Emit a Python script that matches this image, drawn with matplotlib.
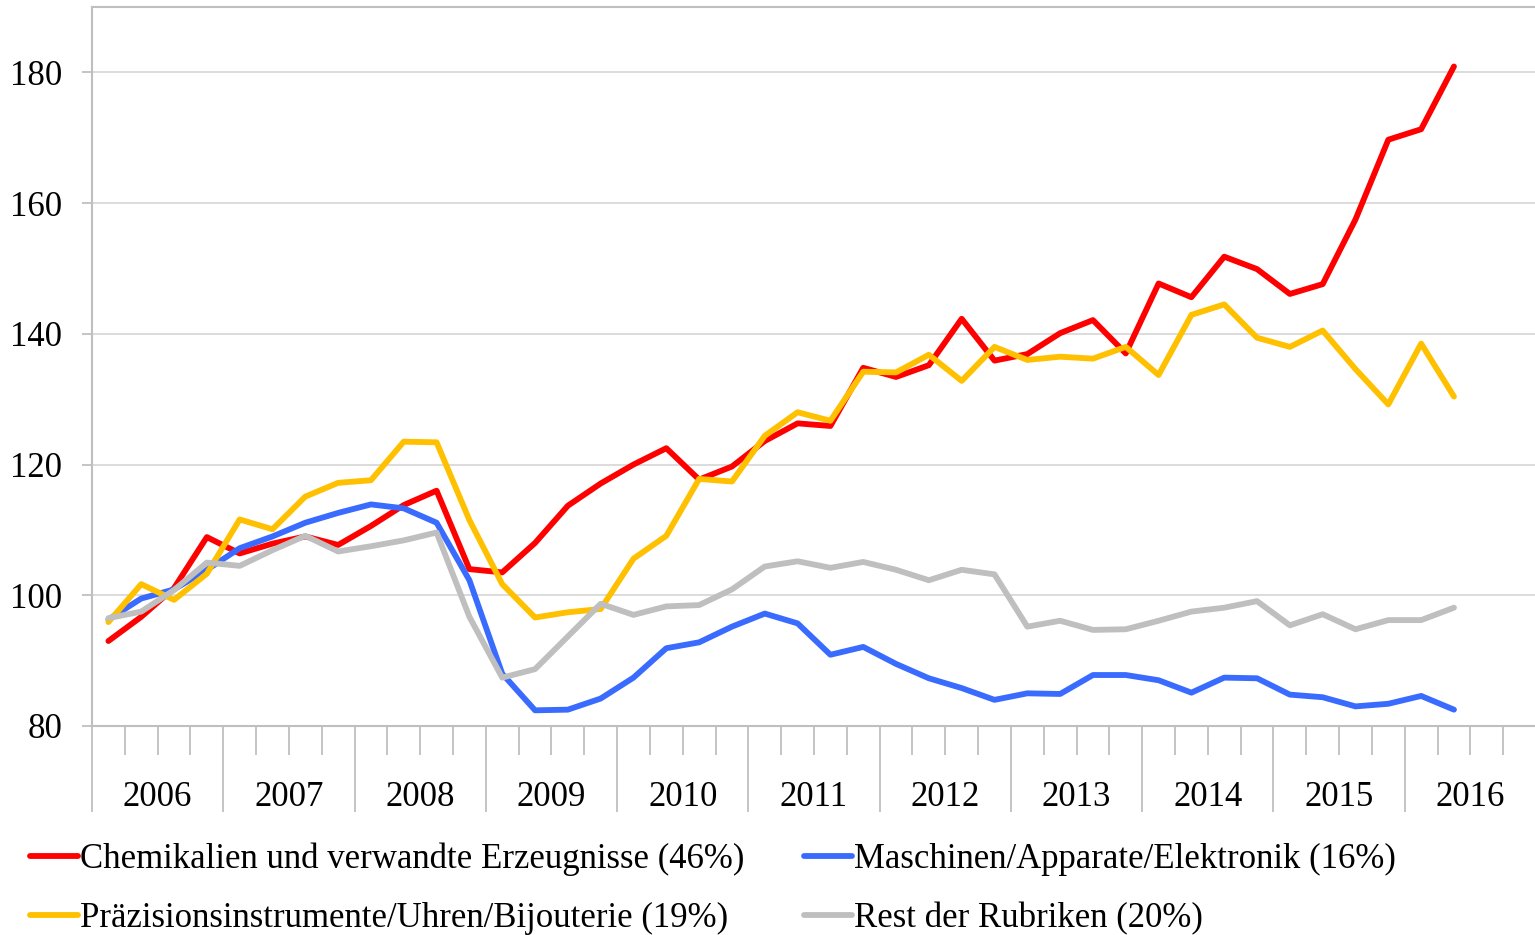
import matplotlib
matplotlib.use("Agg")
import matplotlib.pyplot as plt
from matplotlib.ticker import FixedLocator, NullFormatter
import matplotlib.transforms as mtransforms

plt.rcParams['font.family'] = ['Liberation Serif', 'DejaVu Serif']

years = ["2006", "2007", "2008", "2009", "2010", "2011", "2012", "2013", "2014", "2015", "2016"]
quarters_per_year = 4
n_slots = len(years) * quarters_per_year  # 2016 Q3/Q4 empty

chem = [93.0, 96.7, 101.1, 108.9, 106.4, 107.9, 109.0, 107.7, 110.6, 113.8, 116.0, 104.0,
        103.5, 108.0, 113.7, 117.1, 120.0, 122.5, 117.7, 119.7, 123.6, 126.3, 125.9, 134.8,
        133.4, 135.2, 142.3, 135.9, 136.9, 140.1, 142.1, 137.0, 147.7, 145.6, 151.8, 149.9,
        146.1, 147.6, 157.5, 169.7, 171.3, 180.9]
masch = [96.3, 99.5, 100.9, 103.9, 107.2, 109.0, 111.1, 112.6, 113.9, 113.3, 111.1, 102.3,
         88.0, 82.4, 82.5, 84.2, 87.4, 91.9, 92.8, 95.2, 97.2, 95.7, 90.9, 92.1,
         89.5, 87.3, 85.8, 84.0, 85.0, 84.9, 87.8, 87.8, 87.0, 85.1, 87.4, 87.3,
         84.8, 84.4, 83.0, 83.4, 84.6, 82.5]
praez = [95.9, 101.7, 99.3, 103.3, 111.6, 110.1, 115.1, 117.2, 117.6, 123.5, 123.4, 111.5,
         101.7, 96.6, 97.4, 97.9, 105.6, 109.1, 117.8, 117.4, 124.4, 128.0, 126.7, 134.2,
         134.1, 136.8, 132.8, 138.0, 136.0, 136.5, 136.2, 138.0, 133.7, 142.9, 144.5, 139.4,
         138.0, 140.5, 134.6, 129.2, 138.5, 130.4]
rest = [96.5, 97.5, 100.8, 105.0, 104.5, 106.9, 109.1, 106.7, 107.5, 108.4, 109.6, 96.7,
        87.4, 88.7, 93.7, 98.7, 97.0, 98.3, 98.5, 100.9, 104.4, 105.2, 104.2, 105.1,
        103.9, 102.3, 103.9, 103.2, 95.2, 96.1, 94.7, 94.8, 96.1, 97.5, 98.1, 99.1,
        95.4, 97.1, 94.8, 96.2, 96.2, 98.1]

labels = ["Chemikalien und verwandte Erzeugnisse (46%)",
          "Maschinen/Apparate/Elektronik (16%)",
          "Präzisionsinstrumente/Uhren/Bijouterie (19%)",
          "Rest der Rubriken (20%)"]
colors = ["#FF0000", "#3A6BFF", "#FFC000", "#BFBFBF"]
series = [chem, masch, praez, rest]

yticks = [80, 100, 120, 140, 160, 180]

W, H = 1535, 935
fig = plt.figure(figsize=(W / 100, H / 100), dpi=100)
ax = fig.add_axes([92 / W, 1 - 726 / H, 1444 / W, 719 / H])

FS = 25
grid_c = "#D9D9D9"
axis_c = "#BFBFBF"

handles = []
for vals, col in zip(series, colors):
    x = [i + 0.5 for i in range(len(vals))]
    ln, = ax.plot(x, vals, color=col, lw=4.2, solid_capstyle='round',
                  solid_joinstyle='round', zorder=3)
    handles.append(ln)

ax.set_xlim(0, n_slots)
ax.set_ylim(80, 190)
ax.set_yticks(yticks)
ax.set_yticklabels([str(v) for v in yticks], fontsize=FS)
ax.yaxis.grid(True, color=grid_c, lw=1.3, zorder=0)
ax.tick_params(axis='y', length=7, width=1.3, color=axis_c, pad=14.5)

# x axis: long ticks at year boundaries, short at quarter boundaries
ax.xaxis.set_major_locator(FixedLocator(list(range(0, n_slots + 1, quarters_per_year))))
ax.xaxis.set_minor_locator(FixedLocator([q for q in range(n_slots + 1) if q % quarters_per_year]))
ax.xaxis.set_major_formatter(NullFormatter())
ax.tick_params(axis='x', which='major', length=62, width=1.3, color=axis_c)
ax.tick_params(axis='x', which='minor', length=21, width=1.3, color=axis_c)

trans = mtransforms.blended_transform_factory(ax.transData, ax.transAxes)
for k, yr in enumerate(years):
    ax.text(k * quarters_per_year + quarters_per_year / 2, -71 / 719, yr, transform=trans,
            ha='center', va='center', fontsize=FS)

for s in ['left', 'top', 'bottom']:
    ax.spines[s].set_color(axis_c)
    ax.spines[s].set_linewidth(1.5)
ax.spines['right'].set_visible(False)

order = [0, 2, 1, 3]
leg = fig.legend([handles[i] for i in order], [labels[i] for i in order],
                 ncol=2, loc='upper left', bbox_to_anchor=(30 / W, 1 - 843 / H),
                 frameon=False, fontsize=FS, handlelength=1.38, handletextpad=0.06,
                 columnspacing=1.72, labelspacing=0.74, borderaxespad=0, borderpad=0)

fig.savefig("out.png", dpi=100)
